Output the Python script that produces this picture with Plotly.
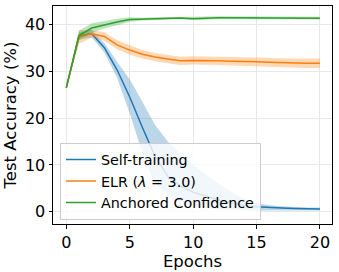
import plotly.graph_objects as go

epochs = list(range(21))

self_mean = [26.5, 37.5, 38.0, 35.0, 30.3, 24.5, 18.0, 11.8, 7.6, 5.5, 4.2, 3.3, 2.5, 1.9, 1.4, 1.1, 0.9, 0.8, 0.7, 0.6, 0.6]
self_upper = [26.5, 38.3, 38.8, 36.0, 32.0, 28.3, 23.5, 18.5, 15.0, 12.3, 10.0, 8.0, 6.0, 4.3, 2.8, 1.8, 1.4, 1.2, 1.0, 0.9, 0.9]
self_lower = [26.5, 36.7, 37.2, 34.0, 28.6, 21.0, 12.5, 6.0, 3.5, 2.2, 1.3, 0.8, 0.5, 0.4, 0.3, 0.3, 0.3, 0.3, 0.3, 0.3, 0.3]

elr_mean = [26.5, 37.4, 38.0, 37.4, 35.6, 34.5, 33.6, 33.0, 32.6, 32.2, 32.3, 32.3, 32.2, 32.1, 32.1, 32.0, 31.9, 31.8, 31.8, 31.7, 31.7]
elr_upper = [26.5, 38.8, 38.8, 38.3, 36.6, 35.5, 34.5, 33.9, 33.5, 33.1, 33.2, 33.2, 33.1, 33.0, 33.0, 32.9, 32.8, 32.7, 32.7, 32.7, 32.7]
elr_lower = [26.5, 35.8, 37.2, 36.5, 34.7, 33.5, 32.7, 32.1, 31.7, 31.3, 31.4, 31.4, 31.3, 31.2, 31.1, 31.0, 30.9, 30.8, 30.8, 30.7, 30.7]

ac_mean = [26.5, 37.6, 39.2, 39.9, 40.5, 41.0, 41.1, 41.2, 41.2, 41.35, 41.2, 41.35, 41.4, 41.4, 41.4, 41.3, 41.3, 41.3, 41.3, 41.3, 41.3]
ac_upper = [26.5, 38.6, 40.2, 40.7, 41.2, 41.5, 41.4, 41.5, 41.5, 41.65, 41.5, 41.65, 41.7, 41.7, 41.7, 41.6, 41.6, 41.6, 41.6, 41.6, 41.6]
ac_lower = [26.5, 36.6, 38.2, 39.1, 39.8, 40.5, 40.8, 40.9, 40.9, 41.05, 40.9, 41.05, 41.1, 41.1, 41.1, 41.0, 41.0, 41.0, 41.0, 41.0, 41.0]

x_ticks = [0, 5, 10, 15, 20]
y_ticks = [0, 10, 20, 30, 40]

series = [
    ("Self-training", self_mean, self_upper, self_lower, "#1f77b4", "rgba(31,119,180,0.3)"),
    ("ELR (<i>\u03bb</i> = 3.0)", elr_mean, elr_upper, elr_lower, "#ff7f0e", "rgba(255,127,14,0.3)"),
    ("Anchored Confidence", ac_mean, ac_upper, ac_lower, "#2ca02c", "rgba(44,160,44,0.3)"),
]

fig = go.Figure()
for name, m, up, lo, col, fcol in series:
    fig.add_trace(go.Scatter(x=epochs, y=lo, mode="lines", line=dict(width=0),
                             showlegend=False, hoverinfo="skip"))
    fig.add_trace(go.Scatter(x=epochs, y=up, mode="lines", line=dict(width=0),
                             fill="tonexty", fillcolor=fcol, showlegend=False, hoverinfo="skip"))
    fig.add_trace(go.Scatter(x=epochs, y=m, mode="lines", name=name,
                             line=dict(color=col, width=1.5)))

axis_common = dict(
    showline=True, linecolor="black", linewidth=1, mirror=True,
    ticks="outside", ticklen=3.5, tickcolor="black", tickwidth=1,
    showgrid=True, gridcolor="#e8e8e8", gridwidth=1, zeroline=False,
    tickfont=dict(size=16, color="black"), automargin=False,
)

fig.update_xaxes(range=[-1.05, 20.95], tickvals=x_ticks,
                 title=dict(text="Epochs", font=dict(size=16.5, color="black"), standoff=2),
                 **axis_common)
fig.update_yaxes(range=[-2.6, 43.9], tickvals=y_ticks,
                 title=dict(text="Test Accuracy (%)", font=dict(size=16.5, color="black"), standoff=4),
                 **axis_common)

fig.update_layout(
    width=339, height=272,
    margin=dict(l=53, r=7, t=6, b=48),
    paper_bgcolor="white", plot_bgcolor="white",
    font=dict(family="DejaVu Sans", color="black"),
    legend=dict(x=0.025, y=0.02, xanchor="left", yanchor="bottom", traceorder="normal",
                bgcolor="rgba(255,255,255,0.8)", bordercolor="#cccccc", borderwidth=1,
                font=dict(size=14.3, color="black"), tracegroupgap=0, itemwidth=30),
)

fig.write_html("out.html", config={"displayModeBar": False},
               post_script="document.body.style.margin='0';document.body.style.padding='0';")
